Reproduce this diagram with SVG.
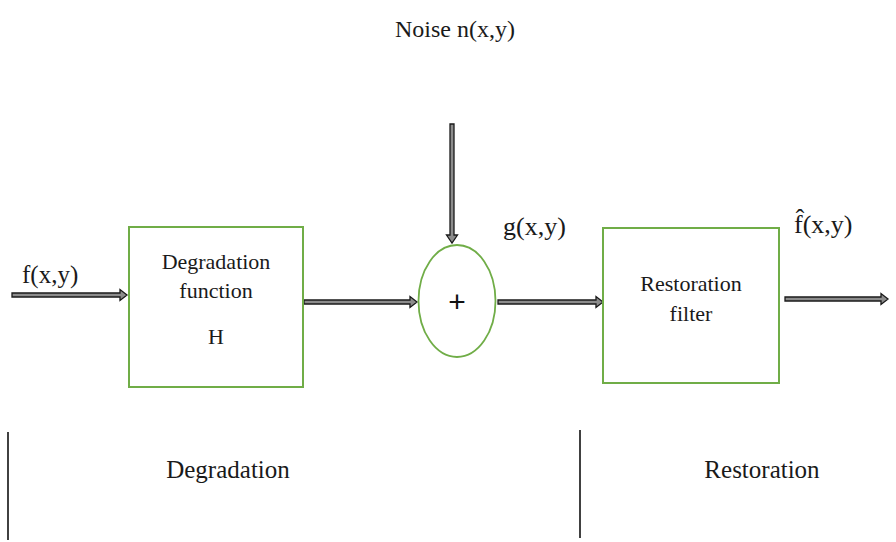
<svg xmlns="http://www.w3.org/2000/svg" width="896" height="542" viewBox="0 0 896 542">
<style>
.box{fill:#fff;stroke:#70ad47;stroke-width:2}
.arr{fill:#8c8c8c;stroke:#1a1a1a;stroke-width:1.3;stroke-linejoin:miter}
.t{font-family:"Liberation Serif","Times New Roman",serif;fill:#1a1a1a}
.div{stroke:#111;stroke-width:1.6}
</style>
<rect width="896" height="542" fill="#fff"/>
<g id="connectors">
<polygon class="arr" points="12,293 120,293 120,289.5 127,295 120,300.5 120,297 12,297"/>
<polygon class="arr" points="304,300 410,300 410,296.5 417,302 410,307.5 410,304 304,304"/>
<polygon class="arr" points="498,300 596,300 596,296.5 603,302 596,307.5 596,304 498,304"/>
<polygon class="arr" points="785,297 881,297 881,293.5 888,299 881,304.5 881,301 785,301"/>
<polygon class="arr" points="450,124 454,124 454,235 457.5,235 452,243 446.5,235 450,235"/>
</g>
<g id="noise-label"><text class="t" x="455" y="37" font-size="24" text-anchor="middle">Noise n(x,y)</text></g>
<g id="input-label"><text class="t" x="22" y="283" font-size="25">f(x,y)</text></g>
<g id="degradation-function">
<rect class="box" x="129" y="227" width="174" height="160"/>
<text class="t" x="216" y="269" font-size="22" text-anchor="middle">Degradation</text>
<text class="t" x="216" y="298" font-size="22" text-anchor="middle">function</text>
<text class="t" x="216" y="344" font-size="22" text-anchor="middle">H</text>
</g>
<g id="adder">
<ellipse cx="457" cy="301" rx="38.5" ry="56" fill="#fff" stroke="#70ad47" stroke-width="1.8"/>
<text x="457" y="312" font-size="30" text-anchor="middle" font-family="Liberation Sans, Arial, sans-serif" fill="#111">+</text>
</g>
<g id="g-label"><text class="t" x="503" y="235" font-size="26">g(x,y)</text></g>
<g id="restoration-filter">
<rect class="box" x="603" y="228" width="176" height="155"/>
<text class="t" x="691" y="291" font-size="22" text-anchor="middle">Restoration</text>
<text class="t" x="691" y="321" font-size="22" text-anchor="middle">filter</text>
</g>
<g id="output-label"><text class="t" x="794" y="233" font-size="26">f̂(x,y)</text></g>
<g id="sections">
<line class="div" x1="8" y1="432" x2="8" y2="540"/>
<line class="div" x1="580" y1="430" x2="580" y2="538"/>
<text class="t" x="228" y="478" font-size="25" text-anchor="middle">Degradation</text>
<text class="t" x="762" y="478" font-size="25" text-anchor="middle">Restoration</text>
</g>
</svg>
